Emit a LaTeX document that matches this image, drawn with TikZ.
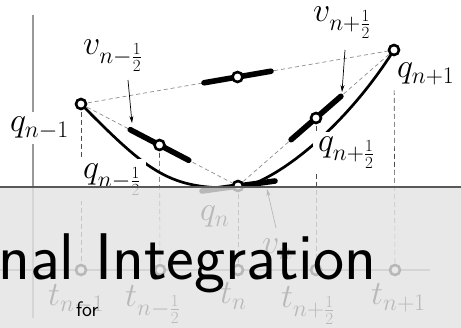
\RequirePackage{fix-cm}
\documentclass[tikz,border=0pt]{standalone}
\usepackage{fontspec}
\usetikzlibrary{calc,arrows.meta}
\begin{document}
\begin{tikzpicture}[x=1pt,y=-1pt,
  pt/.style={circle,draw=black,fill=white,line width=2.6pt,inner sep=0pt,minimum size=10pt},
  lab/.style={font=\fontsize{34}{40}\selectfont,inner sep=0pt,anchor=base west},
  flab/.style={font=\fontsize{34}{40}\selectfont,inner sep=5pt,anchor=base west,fill=white},
  axisline/.style={black!40,line width=1.2pt},
  chord/.style={black!45,line width=0.7pt,dash pattern=on 4pt off 3pt},
  vline/.style={black!70,line width=0.6pt,dash pattern=on 5pt off 3pt},
  curveline/.style={black,line width=2.7pt},
  vel/.style={black,line width=5.6pt,line cap=round},
  pointer/.style={black,line width=0.7pt,-{Stealth[length=7pt,width=4pt]}},
]
\useasboundingbox (0,0) rectangle (461,328);
\clip (0,0) rectangle (461,328);
\fill[white] (0,0) rectangle (461,328);

% key points
\coordinate (Pm1) at (81,104);
\coordinate (Pn)  at (238,186);
\coordinate (Pp1) at (394,50);
\coordinate (Ph1) at ($(Pm1)!0.5!(Pn)$);
\coordinate (Ph2) at ($(Pn)!0.5!(Pp1)$);
\coordinate (Mc)  at ($(Pm1)!0.5!(Pp1)$);

% axes
\coordinate (ya1) at (33,15);
\coordinate (ya2) at (33,318);
\coordinate (xa1) at (0,270);
\coordinate (xa2) at (430,270);
\draw[axisline] (ya1) -- (ya2);
\draw[axisline] (xa1) -- (xa2);

% time markers
\node[pt] (tm1) at (81,270) {};
\node[pt] (th1) at (160,270) {};
\node[pt] (tn)  at (238,270) {};
\node[pt] (th2) at (316,270) {};
\node[pt] (tp1) at (395,270) {};

% t labels
\node[lab] (ltm1) at (48,306) {$t_{n-1}$};
\node[lab] (lth1) at (125,307) {$t_{n-\frac12}$};
\node[lab] (ltn)  at (220,304) {$t_{n}$};
\node[lab] (lth2) at (281,308) {$t_{n+\frac12}$};
\node[lab] (ltp1) at (371,305) {$t_{n+1}$};

% vertical dashed lines
\draw[vline] (Pm1) -- (tm1);
\draw[vline] (Ph1) -- (th1);
\draw[vline] (Pn)  -- (tn);
\draw[vline] (Ph2) -- (th2);
\draw[vline] (Pp1) -- (tp1);

% chords
\draw[chord] (Pm1) -- (Pp1);
\draw[chord] (Pm1) -- (Pn);
\draw[chord] (Pn) -- (Pp1);

% trajectory
\draw[curveline] (Pm1) .. controls (150,174) and (170,189) .. (238,188)
                       .. controls (270,184) and (340,135) .. (Pp1);

% labels with white backgrounds
\node[flab] (lqm1) at (5,132) {$q_{n-1}$};
\node[flab] (lqh1) at (78,179) {$q_{n-\frac12}$};
\node[flab] (lqh2) at (313,152) {$q_{n+\frac12}$};
\node[flab] (lqp1) at (392,78) {$q_{n+1}$};

% velocity segments
\draw[vel] ($(Mc)!34pt!(Pm1)$) -- ($(Mc)!34pt!(Pp1)$);
\draw[vel] ($(Ph1)!33pt!(Pm1)$) -- ($(Ph1)!33pt!(Pn)$);
\draw[vel] ($(Ph2)!33pt!(Pn)$) -- ($(Ph2)!33pt!(Pp1)$);
\coordinate (Tl) at ($(Pn)+(-36,5)$);
\coordinate (Tr) at ($(Pn)+(37,-5)$);
\draw[vel] (Tl) -- (Tr);

% points
\node[pt] (cm1) at (Pm1) {};
\node[pt] (ch1) at (Ph1) {};
\node[pt] (cn)  at (Pn)  {};
\node[pt] (ch2) at (Ph2) {};
\node[pt] (cp1) at (Pp1) {};
\node[pt] (cmc) at (Mc)  {};

% other labels
\node[lab] (lvh1) at (83,55) {$v_{n-\frac12}$};
\node[lab] (lvh2) at (313,22) {$v_{n+\frac12}$};
\node[lab] (lqn)  at (200,221) {$q_{n}$};
\node[lab] (lvn)  at (262,254) {$v_{n}$};

% pointers
\coordinate (a1s) at (128,80);
\coordinate (a1e) at (132,123);
\coordinate (a2s) at (345,50);
\coordinate (a2e) at (342,92);
\coordinate (a3s) at (276,228);
\coordinate (a3e) at (267,189);
\draw[pointer] (a1s) -- (a1e);
\draw[pointer] (a2s) -- (a2e);
\draw[pointer] (a3s) -- (a3e);

% slide overlay
\coordinate (o1) at (0,187);
\coordinate (o2) at (461,328);
\fill[black!11,opacity=0.81] (o1) rectangle (o2);
\draw[black!65,line width=1.2pt] (o1) -- (461,187);

% slide title fragments
\node[anchor=base west,inner sep=0pt,font=\sffamily\fontsize{66}{74}\selectfont] (title) at (-2,280) {nal Integration};
\node[anchor=base west,inner sep=0pt,font=\sffamily\fontsize{21}{25}\selectfont] (for) at (76,317) {for};
\end{tikzpicture}
\end{document}
